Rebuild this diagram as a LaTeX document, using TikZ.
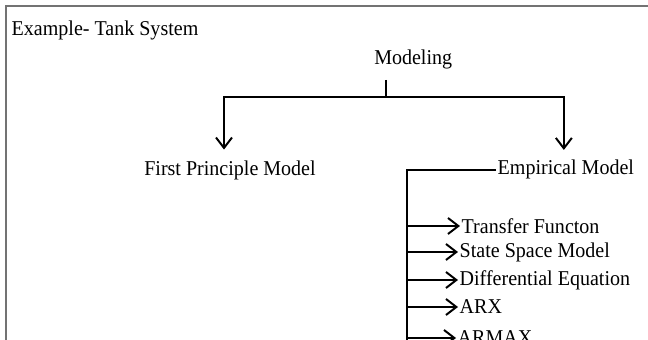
\documentclass[tikz,border=0pt]{standalone}
\usepackage{fontspec}
\setmainfont[FakeStretch=0.95]{Liberation Serif}
\usetikzlibrary{arrows.meta}
\tikzset{
	txt/.style={inner sep=1pt, font=\fontsize{15}{17}\selectfont},
	branch/.style={line width=1.4pt, -{Straight Barb[length=2.6mm,width=4mm,line width=1.4pt]}},
	frame/.style={draw=gray!90!black, line width=1.4pt}
}
\begin{document}
\begin{tikzpicture}
	\clip (0,0) rectangle (16.2,8.5);
	\useasboundingbox (0,0) rectangle (16.2,8.5);
	\draw[frame] (0.16,0) -- (0.16,8.34) -- (16.3,8.34);%Rahmen
	
	\node[txt, anchor=west] (title) at (0.25,7.74) {Example- Tank System};
	\node[txt] (mod) at (10.33,7.01) {Modeling};
	\node[txt] (fpm) at (5.75,4.23) {First Principle Model};
	\node[txt, anchor=west] (emp) at (12.4,4.27) {Empirical Model};
	
	\coordinate (stem) at (9.65,6.5);
	\coordinate (fork) at (9.65,6.075);
	\coordinate (trunk) at (10.18,4.25);
	
	\draw[line width=1.4pt] (stem) -- (fork);
	\draw[branch] (fork) -| ([xshift=-0.15cm,yshift=0.25cm]fpm.north);
	\draw[branch] (fork) -| ([xshift=-0.05cm,yshift=0.2cm]emp.north);
	
	%Empirische Modelle
	\node[txt, anchor=west] (tf) at (11.5,2.85) {Transfer Functon};
	\node[txt, anchor=west] (ss) at (11.45,2.2) {State Space Model};
	\node[txt, anchor=west] (de) at (11.45,1.5) {Differential Equation};
	\node[txt, anchor=west] (arx) at (11.45,0.825) {ARX};
	\node[txt, anchor=west] (armax) at (11.4,0.05) {ARMAX};
	
	\draw[line width=1.4pt] (emp.west |- trunk) -- (trunk) -- (trunk |- 0,-0.2);
	\foreach \m in {tf,ss,de,arx,armax}
		\draw[branch] (trunk |- \m.west) -- (\m.west);
\end{tikzpicture}
\end{document}
